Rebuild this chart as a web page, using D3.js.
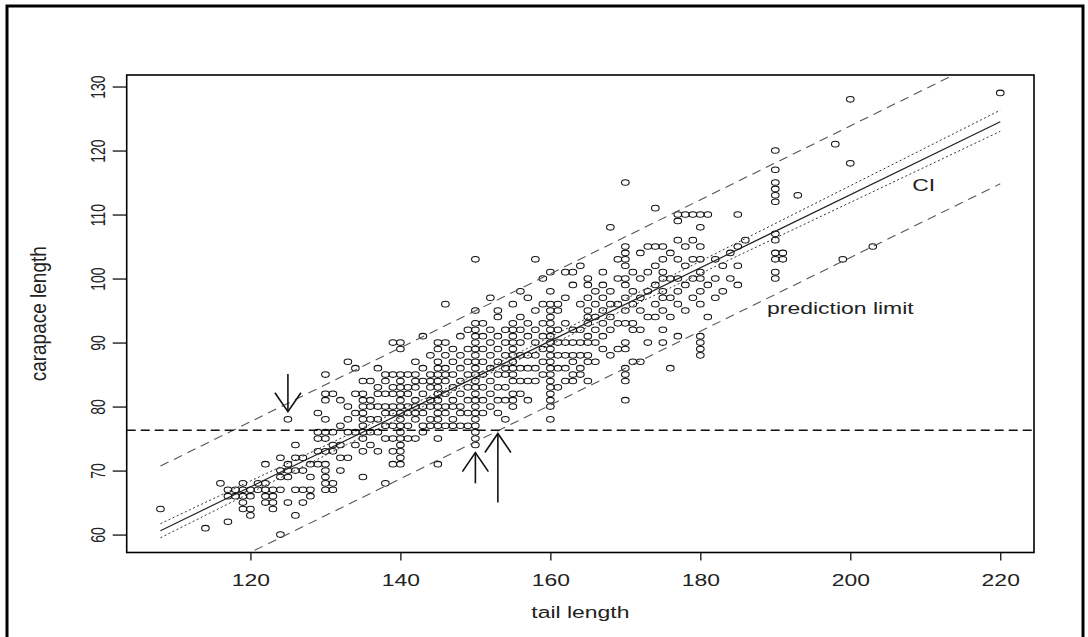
<!DOCTYPE html>
<html>
<head>
<meta charset="utf-8">
<script src="https://cdn.jsdelivr.net/npm/d3@7"></script>
<style>
  body { margin: 0; background: #fff; }
  text { font-family: "Liberation Sans", Arial, sans-serif; fill: #222; }
</style>
</head>
<body>
<div class="chart"></div>
<script>
// tail length -> carapace lengths observed at that tail length
var columns = [
  [108, [64]],
  [114, [61]],
  [116, [68]],
  [117, [62, 66, 67]],
  [118, [66, 67]],
  [119, [64, 65, 66, 67, 68]],
  [120, [63, 64, 66, 67]],
  [121, [67, 68]],
  [122, [65, 66, 67, 68, 71]],
  [123, [64, 65, 66, 67]],
  [124, [60, 67, 69, 70, 72]],
  [125, [65, 69, 70, 71, 78]],
  [126, [63, 67, 70, 72, 74]],
  [127, [65, 67, 70, 72]],
  [128, [66, 67, 69, 71]],
  [129, [71, 73, 75, 76, 79]],
  [130, [67, 68, 69, 70, 71, 73, 75, 76, 78, 81, 82, 85]],
  [131, [67, 68, 73, 74, 76, 82]],
  [132, [70, 72, 74, 77, 81]],
  [133, [72, 76, 78, 80, 87]],
  [134, [74, 76, 79, 82, 86]],
  [135, [69, 73, 75, 76, 77, 78, 79, 80, 81, 82, 84]],
  [136, [74, 76, 78, 80, 81, 84]],
  [137, [73, 76, 78, 80, 82, 83, 86]],
  [138, [68, 75, 77, 79, 80, 82, 84, 85]],
  [139, [71, 73, 75, 77, 79, 80, 82, 83, 85, 90]],
  [140, [71, 72, 73, 74, 75, 76, 77, 78, 79, 80, 81, 82, 83, 84, 85, 89, 90]],
  [141, [75, 77, 79, 80, 82, 83, 85]],
  [142, [75, 78, 79, 80, 81, 83, 84, 85, 87]],
  [143, [76, 77, 79, 80, 82, 84, 86, 91]],
  [144, [77, 78, 80, 81, 83, 84, 85, 88]],
  [145, [71, 75, 77, 78, 79, 80, 81, 82, 83, 84, 85, 86, 87, 89, 90]],
  [146, [77, 79, 80, 82, 84, 85, 86, 88, 90, 96]],
  [147, [77, 78, 80, 81, 83, 85, 87, 89]],
  [148, [77, 79, 80, 82, 84, 86, 88, 91]],
  [149, [77, 79, 81, 83, 85, 87, 89, 92]],
  [150, [74, 75, 76, 77, 78, 79, 80, 81, 82, 83, 84, 85, 86, 87, 88, 89, 90, 91, 92, 93, 95, 103]],
  [151, [79, 81, 83, 85, 87, 89, 91, 93]],
  [152, [80, 82, 84, 86, 88, 90, 92, 97]],
  [153, [79, 81, 83, 85, 87, 89, 91, 94, 95]],
  [154, [78, 81, 83, 85, 86, 88, 90, 92]],
  [155, [80, 81, 82, 84, 85, 86, 87, 88, 89, 90, 91, 92, 93, 96]],
  [156, [82, 84, 86, 88, 90, 92, 94, 98]],
  [157, [81, 84, 86, 88, 91, 93, 97]],
  [158, [84, 86, 88, 90, 92, 95, 103]],
  [159, [85, 87, 89, 91, 93, 96, 100]],
  [160, [78, 80, 81, 82, 83, 84, 85, 86, 87, 88, 89, 90, 91, 92, 93, 94, 95, 96, 98, 101]],
  [161, [83, 86, 88, 90, 92, 95, 96]],
  [162, [84, 86, 88, 90, 93, 97, 101]],
  [163, [84, 85, 87, 88, 90, 92, 99, 101]],
  [164, [85, 86, 88, 90, 92, 96, 102]],
  [165, [84, 87, 88, 90, 91, 93, 94, 95, 97, 99, 100]],
  [166, [87, 90, 92, 94, 96, 98]],
  [167, [89, 91, 93, 95, 97, 99, 101]],
  [168, [88, 92, 94, 96, 98, 108]],
  [169, [89, 93, 96, 100, 103]],
  [170, [81, 84, 85, 86, 89, 90, 93, 95, 97, 99, 100, 102, 103, 104, 105, 115]],
  [171, [87, 92, 93, 96, 98, 101]],
  [172, [87, 92, 95, 97, 100, 104]],
  [173, [90, 94, 98, 101, 105]],
  [174, [94, 96, 99, 102, 105, 111]],
  [175, [90, 92, 95, 97, 98, 100, 101, 103, 105]],
  [176, [86, 94, 97, 100, 104]],
  [177, [91, 96, 98, 100, 103, 106, 109, 110]],
  [178, [95, 99, 102, 105, 110]],
  [179, [97, 100, 103, 106, 110]],
  [180, [88, 89, 90, 91, 96, 98, 100, 101, 103, 105, 108, 110]],
  [181, [94, 99, 110]],
  [182, [97, 100, 103]],
  [183, [98, 102]],
  [184, [100, 104]],
  [185, [99, 102, 105, 110]],
  [186, [106]],
  [190, [100, 101, 103, 104, 106, 107, 112, 113, 114, 115, 117, 120]],
  [191, [103, 104]],
  [193, [113]],
  [198, [121]],
  [199, [103]],
  [200, [118, 128]],
  [203, [105]],
  [220, [129]]
];

// fitted line, confidence band and prediction band
var fitLine  = [[108, 60.6], [220, 124.5]];
var ciUpper  = [[108, 61.7], [150, 85.0], [220, 126.3]];
var ciLower  = [[108, 59.5], [150, 84.1], [220, 123.0]];
var predUpper = [[108, 70.7], [220, 135.4]];
var predLower = [[108, 50.3], [220, 114.8]];
var cutoff = 76.3;

var arrows = [
  {x: 125, from: 85.1, to: 79.2},
  {x: 150, from: 68.0, to: 72.8},
  {x: 153, from: 65.0, to: 75.8}
];

var labels = [
  {text: 'CI', x: 209.8, y: 113.6, anchor: 'middle'},
  {text: 'prediction limit', x: 188.9, y: 94.4, anchor: 'start'}
];

var xTicks = [120, 140, 160, 180, 200, 220];
var yTicks = [60, 70, 80, 90, 100, 110, 120, 130];

var W = 1088, H = 637;
var plotL = 126.7, plotR = 1034, plotT = 75, plotB = 552.5;
var stretch = 1.35;  // text in the picture is wider than tall

var svg = d3.select('.chart').append('svg')
    .attr('width', W).attr('height', H);

// outer frame
svg.append('rect')
    .attr('x', 7).attr('y', 6).attr('width', 1076).attr('height', 640)
    .style('fill', 'none').style('stroke', '#000').style('stroke-width', 3);

var x = d3.scaleLinear().domain([103.5, 224.5]).range([plotL, plotR]);
var y = d3.scaleLinear().domain([57.2, 131.8]).range([plotB, plotT]);

svg.append('clipPath').attr('id', 'plotclip')
  .append('rect')
    .attr('x', plotL).attr('y', plotT)
    .attr('width', plotR - plotL).attr('height', plotB - plotT);

var plot = svg.append('g').attr('clip-path', 'url(#plotclip)');

var points = [];
columns.forEach(function (c) {
  c[1].forEach(function (v) { points.push([c[0], v]); });
});

plot.selectAll('.pt').data(points).enter().append('ellipse')
    .attr('class', 'pt')
    .attr('cx', function (d) { return x(d[0]); })
    .attr('cy', function (d) { return y(d[1]); })
    .attr('rx', 3.8).attr('ry', 2.8)
    .style('fill', 'none').style('stroke', '#111').style('stroke-width', 1.05);

var line = d3.line()
    .x(function (d) { return x(d[0]); })
    .y(function (d) { return y(d[1]); });

plot.append('path').datum(predUpper).attr('d', line)
    .style('fill', 'none').style('stroke', '#555').style('stroke-width', 1.1)
    .style('stroke-dasharray', '9,6');
plot.append('path').datum(predLower).attr('d', line)
    .style('fill', 'none').style('stroke', '#555').style('stroke-width', 1.1)
    .style('stroke-dasharray', '9,6');
plot.append('path').datum(ciUpper).attr('d', line)
    .style('fill', 'none').style('stroke', '#333').style('stroke-width', 1)
    .style('stroke-dasharray', '2,2.5');
plot.append('path').datum(ciLower).attr('d', line)
    .style('fill', 'none').style('stroke', '#333').style('stroke-width', 1)
    .style('stroke-dasharray', '2,2.5');
plot.append('path').datum(fitLine).attr('d', line)
    .style('fill', 'none').style('stroke', '#222').style('stroke-width', 1.2);

// horizontal cut-off
plot.append('line')
    .attr('x1', plotL).attr('x2', plotR)
    .attr('y1', y(cutoff)).attr('y2', y(cutoff))
    .style('stroke', '#111').style('stroke-width', 1.3)
    .style('stroke-dasharray', '9,5');

// arrows
var arr = svg.append('g').selectAll('g').data(arrows).enter().append('g');
arr.append('line')
    .attr('x1', function (d) { return x(d.x); })
    .attr('x2', function (d) { return x(d.x); })
    .attr('y1', function (d) { return y(d.from); })
    .attr('y2', function (d) { return y(d.to); });
arr.append('path')
    .attr('d', function (d) {
      var tx = x(d.x), ty = y(d.to);
      var back = y(d.from) > ty ? 19 : -19;
      return 'M' + (tx - 13) + ',' + (ty + back) + 'L' + tx + ',' + ty + 'L' + (tx + 13) + ',' + (ty + back);
    })
    .style('fill', 'none');
arr.selectAll('line, path').style('stroke', '#111').style('stroke-width', 1.6);

// annotations
svg.selectAll('.note').data(labels).enter().append('text')
    .attr('class', 'note')
    .attr('transform', function (d) { return 'translate(' + x(d.x) + ',' + y(d.y) + ') scale(' + stretch + ',1)'; })
    .attr('text-anchor', function (d) { return d.anchor; })
    .style('font-size', '17px')
    .text(function (d) { return d.text; });

// box
svg.append('rect')
    .attr('x', plotL).attr('y', plotT)
    .attr('width', plotR - plotL).attr('height', plotB - plotT)
    .style('fill', 'none').style('stroke', '#000').style('stroke-width', 1.6);

// axes
var xAxis = svg.append('g')
    .attr('transform', 'translate(0,' + plotB + ')')
    .call(d3.axisBottom(x).tickValues(xTicks).tickSize(8).tickSizeOuter(0));
xAxis.select('.domain').remove();
xAxis.selectAll('.tick line').style('stroke', '#111').style('stroke-width', 1.3);
xAxis.selectAll('.tick text')
    .attr('y', 34).attr('dy', 0)
    .attr('transform', 'scale(' + stretch + ',1)')
    .style('font-size', '17px').style('fill', '#222');

var yAxis = svg.append('g')
    .attr('transform', 'translate(' + plotL + ',0)')
    .call(d3.axisLeft(y).tickValues(yTicks).tickSize(14).tickSizeOuter(0));
yAxis.select('.domain').remove();
yAxis.selectAll('.tick line').style('stroke', '#111').style('stroke-width', 1.3);
yAxis.selectAll('.tick text')
    .attr('x', 0).attr('dy', '0.35em')
    .attr('text-anchor', 'middle')
    .attr('transform', 'translate(-29,0) scale(1.5,1) rotate(-90)')
    .style('font-size', '14px').style('fill', '#222');

// axis titles
svg.append('text')
    .attr('transform', 'translate(' + (plotL + plotR) / 2 + ',618) scale(' + stretch + ',1)')
    .attr('text-anchor', 'middle')
    .style('font-size', '17px')
    .text('tail length');

svg.append('text')
    .attr('transform', 'translate(38,' + (plotT + plotB) / 2 + ') scale(1.15,1) rotate(-90)')
    .attr('text-anchor', 'middle')
    .attr('dy', '0.35em')
    .style('font-size', '19px')
    .text('carapace length');
</script>
</body>
</html>
